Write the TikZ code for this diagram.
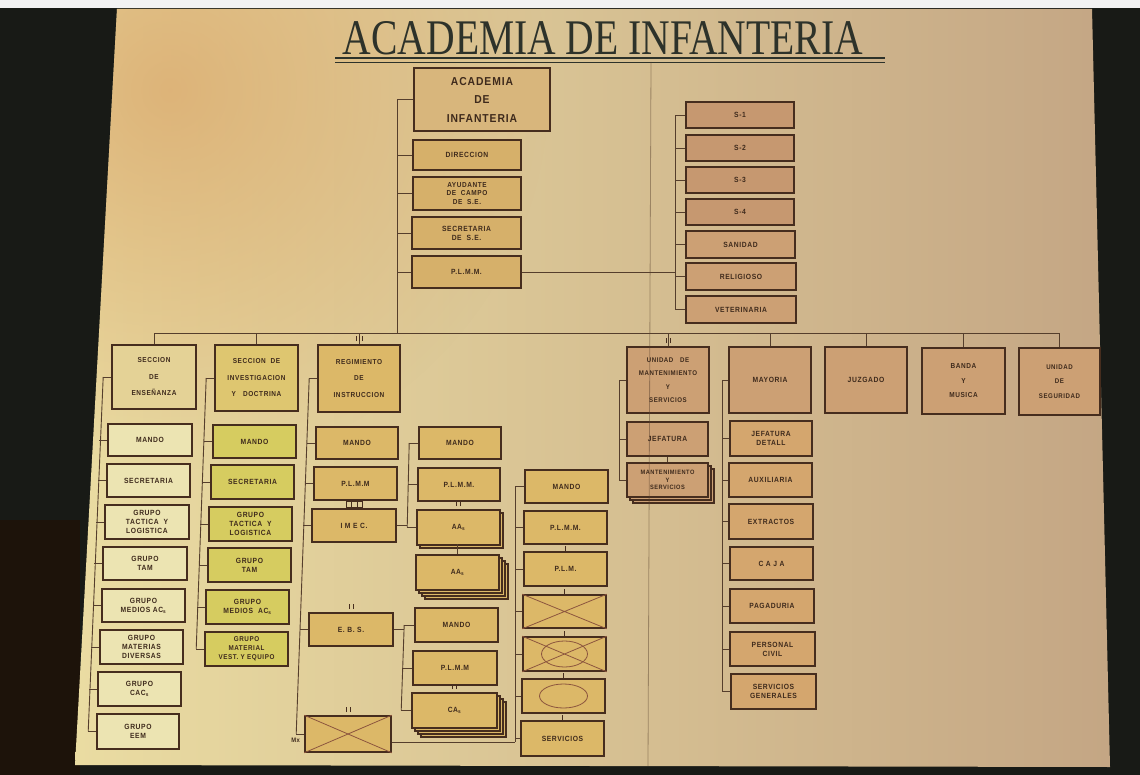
\documentclass[tikz,border=0pt]{standalone}
\usepackage{fontspec}
\usepackage{graphicx}
\usetikzlibrary{shadows,fadings,calc}
\newfontfamily\boxfam[FakeStretch=0.9,LetterSpace=8]{Liberation Sans}
\newfontfamily\titlefam{Liberation Serif}
\newcommand\bxf{\boxfam\bfseries\fontsize{7.5}{9}\selectfont}
\newcommand\headf{\boxfam\bfseries\fontsize{7.2}{16.5}\selectfont}
\newcommand\acadf{\boxfam\bfseries\fontsize{11.5}{18.5}\selectfont}
\definecolor{ink}{RGB}{70,45,30}
\definecolor{txt}{RGB}{62,42,28}
\definecolor{wire}{RGB}{85,62,44}
\definecolor{cA}{RGB}{236,228,178}
\definecolor{cAh}{RGB}{228,210,150}
\definecolor{cB}{RGB}{214,204,96}
\definecolor{cBh}{RGB}{222,198,112}
\definecolor{cC}{RGB}{220,184,104}
\definecolor{cT}{RGB}{214,176,106}
\definecolor{cHead}{RGB}{216,182,124}
\definecolor{cS}{RGB}{198,152,112}
\definecolor{cR}{RGB}{204,160,116}
\definecolor{cM}{RGB}{212,166,110}
\definecolor{boardL}{RGB}{234,220,162}
\definecolor{boardR}{RGB}{196,166,132}
\definecolor{boardT}{RGB}{218,168,108}
\definecolor{dark}{RGB}{24,26,22}
\definecolor{titleink}{RGB}{45,50,42}
\definecolor{xline}{RGB}{140,85,62}
\tikzfading[name=fadecorner, inner color=transparent!0, outer color=transparent!100]
\newcommand\bx[7][]{\node[box,#1,minimum width={(#5-#3)*1pt},minimum height={(#6-#4)*1pt}] (#2) at ({(#3+#5)/2},{(#4+#6)/2}) {#7};}
\newcommand\tk[2]{\foreach \d in {#2} \draw[markln] ($(#1.north)+(\d,-3)$) -- ++(0,-5);}
\begin{document}
\begin{tikzpicture}[x=1pt,y=-1pt,
  box/.style={draw=ink,line width=1.6pt,fill=cC,inner sep=0pt,align=center,text=txt,font=\bxf},
  wire/.style={draw=wire,line width=0.9pt},
  markln/.style={draw=ink,line width=0.8pt},
  xl/.style={draw=xline,line width=0.8pt},
  stackA/.style={general shadow={shadow xshift=3pt,shadow yshift=-3pt,fill=#1,draw=ink,line width=1.2pt}},
  stackB/.style={general shadow={shadow xshift=6pt,shadow yshift=-6pt,fill=#1,draw=ink,line width=1.2pt},stackA=#1},
  stackC/.style={general shadow={shadow xshift=9pt,shadow yshift=-9pt,fill=#1,draw=ink,line width=1.2pt},stackB=#1}]
\useasboundingbox (0,0) rectangle (1140,775);
% surroundings
\fill[dark] (0,0) rectangle (1140,775);
\fill[black!85!brown] (0,520) rectangle (80,775);
\fill[gray!10] (0,0) rectangle (1140,8);
% board
\shade[left color=boardL,right color=boardR] (117,9) -- (1092,9) -- (1110,767) -- (75,765) -- cycle;
\begin{scope}
\clip (117,9) -- (1092,9) -- (1110,767) -- (75,765) -- cycle;
\fill[boardT,opacity=0.75,path fading=fadecorner] (170,90) circle (380);
\end{scope}
% title
\node[font=\titlefam,text=titleink,inner sep=0pt] (title) at (603,38) {\resizebox{520pt}{33pt}{ACADEMIA DE INFANTERIA}};
\draw[titleink,line width=2pt] (335,58.5) -- (885,58.5);
\draw[titleink,line width=0.8pt] (335,62) -- (885,62);
% top column
\bx[fill=cHead,font=\acadf]{acad}{414}{68}{550}{131}{ACADEMIA\\DE\\INFANTERIA}
\bx[fill=cT]{dir}{413}{140}{521}{170}{DIRECCION}
\bx[fill=cT,font=\boxfam\bfseries\fontsize{7.2}{8.6}\selectfont]{ayu}{413}{177}{521}{210}{AYUDANTE\\DE\ \ CAMPO\\DE\ \ S.E.}
\bx[fill=cT]{sec}{412}{217}{521}{249}{SECRETARIA\\DE\ \ S.E.}
\bx[fill=cT]{plmm}{412}{256}{521}{288}{P.L.M.M.}
\bx[fill=cS]{s1}{686}{102}{794}{128}{S-1}
\bx[fill=cS]{s2}{686}{135}{794}{161}{S-2}
\bx[fill=cS]{s3}{686}{167}{794}{193}{S-3}
\bx[fill=cS]{s4}{686}{199}{794}{225}{S-4}
\bx[fill=cR]{san}{686}{231}{795}{258}{SANIDAD}
\bx[fill=cR]{rel}{686}{263}{796}{290}{RELIGIOSO}
\bx[fill=cR]{vet}{686}{296}{796}{323}{VETERINARIA}
% heads
\bx[fill=cAh,font=\headf]{ens}{112}{345}{196}{409}{SECCION\\DE\\ENSEÑANZA}
\bx[fill=cBh,font=\headf]{inv}{215}{345}{298}{411}{SECCION\ \ DE\\INVESTIGACION\\Y\ \ \ DOCTRINA}
\bx[fill=cC,font=\headf]{reg}{318}{345}{400}{412}{REGIMIENTO\\DE\\INSTRUCCION}
\bx[fill=cR,font=\boxfam\bfseries\fontsize{6.8}{13.5}\selectfont]{umt}{627}{347}{709}{413}{UNIDAD\ \ \ DE\\MANTENIMIENTO\\Y\\SERVICIOS}
\bx[fill=cR]{may}{729}{347}{811}{413}{MAYORIA}
\bx[fill=cR]{juz}{825}{347}{907}{413}{JUZGADO}
\bx[fill=cR,font=\boxfam\bfseries\fontsize{7.2}{14.5}\selectfont]{ban}{922}{348}{1005}{414}{BANDA\\Y\\MUSICA}
\bx[fill=cR,font=\boxfam\bfseries\fontsize{6.8}{14.5}\selectfont]{useg}{1019}{348}{1100}{415}{UNIDAD\\DE\\SEGURIDAD}
% column 1
\bx[fill=cA]{man1}{108}{424}{192}{456}{MANDO}
\bx[fill=cA]{sec1}{107}{464}{190}{497}{SECRETARIA}
\bx[fill=cA]{gtl1}{105}{505}{189}{539}{GRUPO\\TACTICA\ \ Y\\LOGISTICA}
\bx[fill=cA]{tam1}{103}{547}{187}{580}{GRUPO\\TAM}
\bx[fill=cA]{med1}{102}{589}{185}{622}{GRUPO\\MEDIOS AC\textsubscript{s}}
\bx[fill=cA]{mat1}{100}{630}{183}{664}{GRUPO\\MATERIAS\\DIVERSAS}
\bx[fill=cA]{cac1}{98}{672}{181}{706}{GRUPO\\CAC\textsubscript{s}}
\bx[fill=cA]{eem1}{97}{714}{179}{749}{GRUPO\\EEM}
% column 2
\bx[fill=cB]{man2}{213}{425}{296}{458}{MANDO}
\bx[fill=cB]{sec2}{211}{465}{294}{499}{SECRETARIA}
\bx[fill=cB]{gtl2}{209}{507}{292}{541}{GRUPO\\TACTICA\ \ Y\\LOGISTICA}
\bx[fill=cB]{tam2}{208}{548}{291}{582}{GRUPO\\TAM}
\bx[fill=cB]{med2}{206}{590}{289}{624}{GRUPO\\MEDIOS\ \ AC\textsubscript{s}}
\bx[fill=cB,font=\boxfam\bfseries\fontsize{7}{8.8}\selectfont]{mve2}{205}{632}{288}{666}{GRUPO\\MATERIAL\\VEST. Y EQUIPO}
% column 3
\bx{man3}{316}{427}{398}{459}{MANDO}
\bx{plm3}{314}{467}{397}{500}{P.L.M.M}
\bx{imec}{312}{509}{396}{542}{I M E C.}
\bx{ebs}{309}{613}{393}{646}{E. B. S.}
\bx{mx}{305}{716}{391}{752}{}
% column 4
\bx{man4}{419}{427}{501}{459}{MANDO}
\bx{plm4}{418}{468}{500}{501}{P.L.M.M.}
\bx[stackA=cC]{aa1}{417}{510}{500}{545}{AA\textsubscript{s}}
\bx[stackC=cC]{aa2}{416}{555}{499}{590}{AA\textsubscript{s}}
\bx{man4b}{415}{608}{498}{642}{MANDO}
\bx{plm4b}{413}{651}{497}{685}{P.L.M.M}
\bx[stackC=cC]{cas}{412}{693}{497}{728}{CA\textsubscript{s}}
% column 5
\bx{man5}{525}{470}{608}{503}{MANDO}
\bx{plm5}{524}{511}{607}{544}{P.L.M.M.}
\bx{plmx}{524}{552}{607}{586}{P.L.M.}
\bx{xa}{523}{595}{606}{628}{}
\bx{xo}{523}{637}{606}{671}{}
\bx{ov}{522}{679}{605}{713}{}
\bx{serv}{521}{721}{604}{756}{SERVICIOS}
% unidad de mantenimiento
\bx[fill=cR]{jef}{627}{422}{708}{456}{JEFATURA}
\bx[fill=cR,stackB=cR,font=\boxfam\bfseries\fontsize{6.3}{7.3}\selectfont]{mys}{627}{463}{708}{497}{MANTENIMIENTO\\Y\\SERVICIOS}
% mayoria
\bx[fill=cM]{jd}{730}{421}{812}{456}{JEFATURA\\DETALL}
\bx[fill=cM]{aux}{729}{463}{812}{497}{AUXILIARIA}
\bx[fill=cM]{ext}{729}{504}{813}{539}{EXTRACTOS}
\bx[fill=cM]{caja}{730}{547}{813}{580}{C A J A}
\bx[fill=cM]{pag}{730}{589}{814}{623}{PAGADURIA}
\bx[fill=cM]{pc}{730}{632}{815}{666}{PERSONAL\\CIVIL}
\bx[fill=cM]{sg}{731}{674}{816}{709}{SERVICIOS\\GENERALES}
% crosses and ovals
\foreach \n in {mx,xa,xo} \draw[xl] (\n.north west) -- (\n.south east) (\n.north east) -- (\n.south west);
\draw[xl] (xo.center) ellipse (23 and 13);
\draw[xl] (ov.center) ellipse (24 and 12);
\node[font=\boxfam\bfseries\fontsize{6.5}{7}\selectfont,text=txt,anchor=east,inner sep=0pt] (mxl) at ($(mx.west)+(-4,6)$) {Mx};
% top wiring
\coordinate (busL) at (154,333);
\coordinate (busR) at (1060,333);
\draw[wire] (busL) -- (busR);
\coordinate (lsp) at (397,99);
\draw[wire] (acad.west) -- (acad.west -| lsp) -- (lsp |- busL);
\foreach \n in {dir,ayu,sec,plmm} \draw[wire] (\n.west) -- (\n.west -| lsp);
\coordinate (rsp) at (675,115);
\draw[wire] (s1.west) -- (s1.west -| rsp) -- (rsp |- vet.west) -- (vet.west);
\foreach \n in {s2,s3,s4,san,rel} \draw[wire] (\n.west) -- (\n.west -| rsp);
\draw[wire] (plmm.east) -- (plmm.east -| rsp);
\foreach \n in {ens,inv,reg,umt,may,juz,ban,useg} \draw[wire] (\n.north) -- (\n.north |- busL);
% column spines
\draw[wire] (ens.west) -- ++(-8,0) coordinate (e1t);
\draw[wire] (eem1.west) -- ++(-8,0) coordinate (e1b);
\draw[wire] (e1t) -- (e1b);
\foreach \n in {man1,sec1,gtl1,tam1,med1,mat1,cac1} \draw[wire] (\n.west) -- ++(-8,0);
\draw[wire] (inv.west) -- ++(-8,0) coordinate (e2t);
\draw[wire] (mve2.west) -- ++(-8,0) coordinate (e2b);
\draw[wire] (e2t) -- (e2b);
\foreach \n in {man2,sec2,gtl2,tam2,med2} \draw[wire] (\n.west) -- ++(-8,0);
\draw[wire] (reg.west) -- ++(-8,0) coordinate (e3t);
\draw[wire] (mx.west) -- ++(-8,0) coordinate (e3b);
\draw[wire] (e3t) -- (e3b);
\foreach \n in {man3,plm3,imec,ebs} \draw[wire] (\n.west) -- ++(-8,0);
\draw[wire] (man4.west) -- ++(-9,0) coordinate (a4t);
\draw[wire] (aa1.west) -- ++(-9,0) coordinate (a4b);
\draw[wire] (a4t) -- (a4b);
\draw[wire] (plm4.west) -- ++(-9,0);
\draw[wire] (imec.east) -- (imec.east -| a4b);
\draw[wire] (aa2.north) -- ++(0,-10);
\draw[wire] (man4b.west) -- ++(-10,0) coordinate (b4t);
\draw[wire] (cas.west) -- ++(-10,0) coordinate (b4b);
\draw[wire] (b4t) -- (b4b);
\draw[wire] (plm4b.west) -- ++(-10,0);
\draw[wire] (ebs.east) -- (ebs.east -| b4t);
\coordinate (c5) at (515,487);
\coordinate (mxo) at ($(mx.east)+(0,8)$);
\draw[wire] (c5) -- (c5 |- mxo);
\foreach \n in {man5,plm5,plmx,xa,xo,ov,serv} \draw[wire] (\n.west) -- (\n.west -| c5);
\draw[wire] (mxo) -- (mxo -| c5);
\foreach \n in {plmx,xa,xo,ov,serv} \draw[markln] (\n.north) -- ++(0,-5);
\coordinate (u) at (619,380);
\draw[wire] (umt.west) -- (umt.west -| u) -- (u |- mys.west) -- (mys.west);
\draw[wire] (jef.west) -- (jef.west -| u);
\draw[wire] (jef.south) -- (mys.north);
\coordinate (mm) at (722,380);
\draw[wire] (may.west) -- (may.west -| mm) -- (mm |- sg.west) -- (sg.west);
\foreach \n in {jd,aux,ext,caja,pag,pc} \draw[wire] (\n.west) -- (\n.west -| mm);
% small marks
\tk{reg}{-3,0,3}
\tk{umt}{-2,2}
\tk{aa1}{-2,2}
\tk{ebs}{-2,2}
\tk{cas}{-2,2}
\tk{mx}{-2,2}
\draw[markln] ($(imec.north)+(-8,-1)$) rectangle ($(imec.north)+(8,-7)$);
\foreach \d in {-3,3} \draw[markln] ($(imec.north)+(\d,-1)$) -- ++(0,-6);
% seam of the board
\draw[wire,opacity=0.45,line width=0.8pt] (651,62) -- (648,766);
\end{tikzpicture}
\end{document}
